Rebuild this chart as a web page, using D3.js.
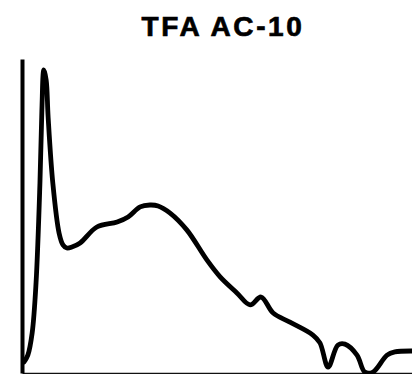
<!DOCTYPE html>
<html>
<head>
<meta charset="utf-8">
<script src="https://cdn.jsdelivr.net/npm/d3@7"></script>
<style>
  html, body { margin: 0; padding: 0; background: #fff; }
  svg { display: block; }
</style>
</head>
<body>
<svg id="chart" width="412" height="374"></svg>
<script>
// Chromatogram trace: relative retention (0-100) vs relative response (0-100)
const title = "TFA AC-10";
const retention = [0.5, 1.5, 2.6, 3.6, 4.6, 5.1, 5.6, 6.2, 6.7, 7.9, 9.5, 10.5, 11.5, 12.8, 14.9, 19.2, 24.4, 27.2, 30.3, 32.8, 34.9, 37.9, 42.3, 47.4, 50.8, 55.1, 58.5, 61.3, 64.4, 68.7, 74.6, 76.4, 78.5, 81.0, 82.8, 85.9, 87.9, 90.0, 93.6, 95.6, 100];
const response  = [3.5, 5.7, 12.7, 28.7, 60.5, 83.8, 96.5, 93.3, 81.5, 60.5, 44.6, 40.8, 39.8, 40.1, 41.4, 46.5, 48.1, 49.7, 52.9, 53.5, 53.2, 51.0, 45.5, 36.0, 30.6, 25.5, 21.7, 24.2, 19.1, 16.2, 12.1, 9.6, 1.9, 8.9, 9.2, 5.7, 0.3, 0.3, 5.7, 6.7, 7.0];

const margin = { left: 22, right: 0, top: 59, bottom: 1 };
const width = 412, height = 374;

const svg = d3.select("#chart");

const x = d3.scaleLinear().domain([0, 100]).range([margin.left, width - margin.right]);
const y = d3.scaleLinear().domain([0, 100]).range([height - margin.bottom, margin.top]);

// title
svg.append("text")
  .attr("x", 223)
  .attr("y", 36)
  .attr("text-anchor", "middle")
  .attr("font-family", "'Liberation Sans', Arial, sans-serif")
  .attr("font-weight", "bold")
  .attr("font-size", 28)
  .attr("letter-spacing", "2.6px")
  .attr("fill", "#000")
  .attr("stroke", "#000")
  .attr("stroke-width", 0.7)
  .text(title);

// baseline axis
svg.append("g")
  .attr("transform", `translate(0,${y(0)})`)
  .call(d3.axisBottom(x).tickValues([]).tickSizeOuter(0))
  .call(g => g.select(".domain").attr("stroke", "#111").attr("stroke-width", 1.5));

// vertical axis
svg.append("g")
  .attr("transform", `translate(${x(0)},0)`)
  .call(d3.axisLeft(y).tickValues([]).tickSizeOuter(0))
  .call(g => g.select(".domain").attr("stroke", "#000").attr("stroke-width", 4));

// trace
const pts = retention.map((r, i) => [r, response[i]]);
const line = d3.line()
  .x(d => x(d[0]))
  .y(d => y(d[1]))
  .curve(d3.curveCatmullRom.alpha(0.5));

svg.append("path")
  .datum(pts)
  .attr("d", line)
  .attr("fill", "none")
  .attr("stroke", "#000")
  .attr("stroke-width", 4.8)
  .attr("stroke-linejoin", "round")
  .attr("stroke-linecap", "round");
</script>
</body>
</html>
